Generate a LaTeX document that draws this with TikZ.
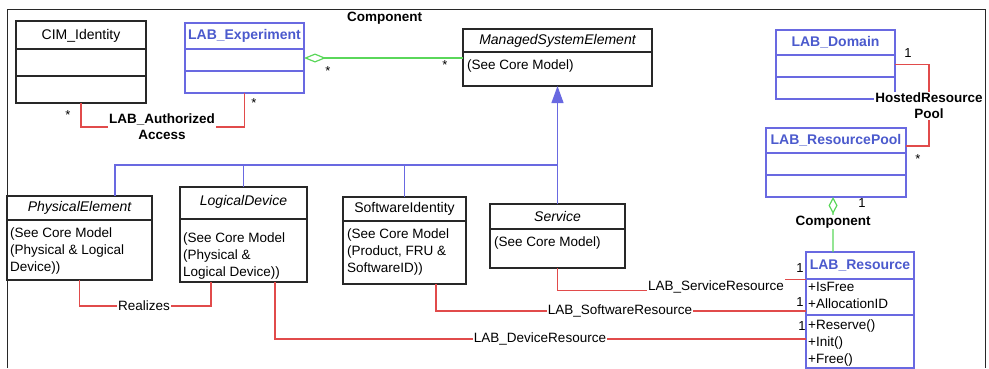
\documentclass[tikz,border=0pt]{standalone}
\usepackage{fontspec}
\setmainfont{Liberation Sans}
\usetikzlibrary{arrows.meta,calc}
\definecolor{ublue}{RGB}{105,105,225}
\definecolor{tblue}{RGB}{75,90,205}
\definecolor{ured}{RGB}{225,75,75}
\definecolor{ugreen}{RGB}{90,215,90}
\definecolor{ugray}{RGB}{40,40,40}
\begin{document}
\begin{tikzpicture}[x=1pt,y=-1pt,
  box/.style={draw=ugray,line width=1.1pt,inner sep=0pt,outer sep=0pt,rectangle},
  bbox/.style={box,draw=ublue},
  div/.style={draw=ugray,line width=1.1pt},
  bdiv/.style={draw=ublue,line width=1.1pt},
  txt/.style={inner sep=0pt,font=\fontsize{13.5}{17}\selectfont,align=left},
  ttl/.style={inner sep=0pt,font=\fontsize{14}{17}\selectfont},
  itl/.style={ttl,font=\fontsize{14}{17}\selectfont\itshape},
  btl/.style={ttl,font=\fontsize{14}{17}\selectfont\bfseries,text=tblue},
  lbl/.style={inner sep=1pt,font=\fontsize{13.5}{16}\selectfont\bfseries,align=center,fill=white},
  rlbl/.style={inner sep=1pt,font=\fontsize{13.5}{16}\selectfont,fill=white},
  mult/.style={inner sep=0pt,font=\fontsize{13}{15}\selectfont},
  assoc/.style={draw=ured,line width=1.2pt},
  inh/.style={draw=ublue,line width=1.2pt},
  agg/.style={draw=ugreen,line width=1.2pt},
]
\useasboundingbox (0,0) rectangle (989,368);
\draw[ugray,line width=1pt] (7,368) -- (7,9) -- (985,9) -- (985,368);

% ---------- classes ----------
% CIM_Identity
\node[box,minimum width=130pt,minimum height=82pt] (cim) at (81,62) {};
\node[ttl] (cimT) at (81,35.5) {CIM\_Identity};
\draw[div] (cim.west |- 0,49) -- (cim.east |- 0,49);
\draw[div] (cim.west |- 0,76) -- (cim.east |- 0,76);

% LAB_Experiment
\node[bbox,minimum width=119pt,minimum height=70pt] (exp) at (244.5,58) {};
\node[btl] (expT) at (244.5,36) {LAB\_Experiment};
\draw[bdiv] (exp.west |- 0,49) -- (exp.east |- 0,49);
\draw[bdiv] (exp.west |- 0,71) -- (exp.east |- 0,71);

% ManagedSystemElement
\node[box,minimum width=189pt,minimum height=57pt] (mse) at (557.5,57.5) {};
\node[itl] (mseT) at (557.5,40.5) {ManagedSystemElement};
\draw[div] (mse.west |- 0,52) -- (mse.east |- 0,52);
\node[txt,anchor=base west] (mseB) at (467,69) {(See Core Model)};

% LAB_Domain
\node[bbox,minimum width=119pt,minimum height=69pt] (dom) at (835.5,64.5) {};
\node[btl] (domT) at (835.5,42.5) {LAB\_Domain};
\draw[bdiv] (dom.west |- 0,55) -- (dom.east |- 0,55);
\draw[bdiv] (dom.west |- 0,77) -- (dom.east |- 0,77);

% LAB_ResourcePool
\node[bbox,minimum width=140pt,minimum height=69pt] (pool) at (836,162.5) {};
\node[btl] (poolT) at (836,140.5) {LAB\_ResourcePool};
\draw[bdiv] (pool.west |- 0,153) -- (pool.east |- 0,153);
\draw[bdiv] (pool.west |- 0,175) -- (pool.east |- 0,175);

% PhysicalElement
\node[box,minimum width=145pt,minimum height=84pt] (pe) at (79.5,238) {};
\node[itl] (peT) at (79.5,208) {PhysicalElement};
\draw[div] (pe.west |- 0,220) -- (pe.east |- 0,220);
\node[txt,anchor=north west] (peB) at (10,227.2) {(See Core Model\\(Physical \& Logical\\Device))};

% LogicalDevice
\node[box,minimum width=127pt,minimum height=95pt] (ld) at (243.5,234.5) {};
\node[itl] (ldT) at (243.5,201.5) {LogicalDevice};
\draw[div] (ld.west |- 0,219) -- (ld.east |- 0,219);
\node[txt,anchor=north west] (ldB) at (183,232.2) {(See Core Model\\(Physical \&\\Logical Device))};

% SoftwareIdentity
\node[box,minimum width=123pt,minimum height=87pt] (si) at (404.5,240.5) {};
\node[ttl] (siT) at (404.5,209) {SoftwareIdentity};
\draw[div] (si.west |- 0,221) -- (si.east |- 0,221);
\node[txt,anchor=north west] (siB) at (347,228.2) {(See Core Model\\(Product, FRU \&\\SoftwareID))};

% Service
\node[box,minimum width=135pt,minimum height=64pt] (svc) at (557.5,236) {};
\node[itl] (svcT) at (557.5,216.5) {Service};
\draw[div] (svc.west |- 0,229) -- (svc.east |- 0,229);
\node[txt,anchor=base west] (svcB) at (494,246) {(See Core Model)};

% LAB_Resource
\node[bbox,minimum width=108pt,minimum height=116pt] (res) at (860,310) {};
\node[btl] (resT) at (860,265.5) {LAB\_Resource};
\draw[bdiv] (res.west |- 0,279) -- (res.east |- 0,279);
\draw[bdiv] (res.west |- 0,315) -- (res.east |- 0,315);
\node[txt,anchor=north west] (resA) at (808,282.2) {+IsFree\\+AllocationID};
\node[txt,anchor=north west] (resM) at (808,319.2) {+Reserve()\\+Init()\\+Free()};

% ---------- inheritance ----------
\coordinate (bus) at (557.5,165);
\draw[inh] ($(pe.north west)!0.745!(pe.north east)$) |- (bus);
\draw[inh] (ld.north) |- (bus);
\draw[inh] (si.north) |- (bus);
\draw[inh] (svc.north) -- (bus);
\draw[inh,-{Triangle[length=17pt,width=12pt]},ublue] (bus) -- (mse.south);

% ---------- aggregations (Component) ----------
\draw[agg,{Diamond[open,length=22pt,width=9pt]}-] (exp.east) -- (exp.east -| mse.west);
\node[lbl,fill=none] (comp1) at (384.5,18) {Component};
\node[mult] (s1) at (328,71) {*};
\node[mult] (s2) at (445,65) {*};

\draw[agg,{Diamond[open,length=17pt,width=9pt]}-] ($(pool.south west)!0.479!(pool.south east)$) -- ($(res.north west)!0.25!(res.north east)$);
\node[lbl] (comp2) at (833,222) {Component};
\node[mult] (m0) at (862,203) {1};

% ---------- associations ----------
\node[lbl] (aa) at (162,127) {LAB\_Authorized\\Access};
\draw[assoc] (cim.south) |- (aa.west);
\draw[assoc] (aa.east) -| (exp.south);
\node[mult] (s3) at (68,115) {*};
\node[mult] (s4) at (254,103) {*};

\node[lbl] (hrp) at (929,106) {HostedResource\\Pool};
\draw[assoc] (dom.east) -| (hrp.north);
\draw[assoc] (hrp.south) |- ($(pool.north east)!0.26!(pool.south east)$);
\node[mult] (m1) at (908,53) {1};
\node[mult] (s5) at (918,159) {*};

\node[rlbl] (rz) at (144,306) {Realizes};
\draw[assoc] (pe.south) |- (rz.west);
\draw[assoc] (rz.east) -| ($(ld.south west)!0.244!(ld.south east)$);

\node[rlbl] (dr) at (540,339) {LAB\_DeviceResource};
\draw[assoc] ($(ld.south west)!0.748!(ld.south east)$) |- (dr.west);
\draw[assoc] (dr.east) -- (dr.east -| res.west);

\node[rlbl] (sr) at (620,311) {LAB\_SoftwareResource};
\draw[assoc] ($(si.south west)!0.756!(si.south east)$) |- (sr.west);
\draw[assoc] (sr.east) -- (sr.east -| res.west);

\node[rlbl] (svr) at (716,287) {LAB\_ServiceResource};
\draw[assoc] (svc.south) |- (svr.base west);
\draw[assoc] (svr.north east) -- (svr.north east -| res.west);

\node[mult] (m2) at (800,268) {1};
\node[mult] (m3) at (800,302) {1};
\node[mult] (m4) at (802,326) {1};
\end{tikzpicture}
\end{document}
